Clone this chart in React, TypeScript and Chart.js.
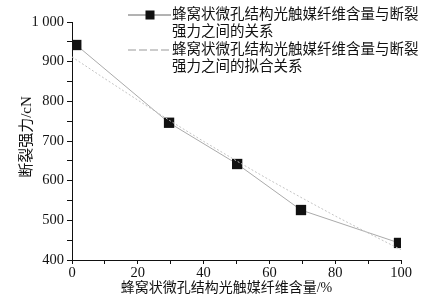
import React, { useEffect, useRef } from "react";
import { Chart, registerables } from "chart.js";

Chart.register(...registerables);

const contentX = [1.3, 29.5, 50.2, 69.6, 99.4];
const strengthY = [942, 746, 642, 526, 443];
const fitX = [0, 10, 20, 30, 40, 50, 60, 70, 80, 90, 100];
const fitY = [912, 857, 803, 750, 699, 650, 602, 556, 511, 468, 426];
const legendMeasured = ["蜂窝状微孔结构光触媒纤维含量与断裂", "强力之间的关系"];
const legendFit = ["蜂窝状微孔结构光触媒纤维含量与断裂", "强力之间的拟合关系"];
const xTitle = "蜂窝状微孔结构光触媒纤维含量/%";
const yTitle = "断裂强力/cN";

const FONT = "'Liberation Serif', 'Noto Sans CJK SC', serif";

const legendPlugin = {
  id: "customLegend",
  afterDraw(chart: any) {
    const ctx = chart.ctx as CanvasRenderingContext2D;
    const area = chart.chartArea;
    ctx.save();
    ctx.font = `14.5px ${FONT}`;
    ctx.fillStyle = "#111";
    ctx.textBaseline = "middle";
    ctx.textAlign = "left";
    // entry 1
    ctx.strokeStyle = "#666";
    ctx.lineWidth = 1;
    ctx.beginPath();
    ctx.moveTo(128, 15);
    ctx.lineTo(171, 15);
    ctx.stroke();
    ctx.fillRect(145.5, 10.5, 9, 9);
    legendMeasured.forEach((t, i) => ctx.fillText(t, 172, 15 + i * 17.5));
    // entry 2
    ctx.strokeStyle = "#999";
    ctx.setLineDash([8, 3]);
    ctx.beginPath();
    ctx.moveTo(128, 50);
    ctx.lineTo(171, 50);
    ctx.stroke();
    ctx.setLineDash([]);
    legendFit.forEach((t, i) => ctx.fillText(t, 172, 50 + i * 17.5));

    // axis titles
    ctx.font = `14px ${FONT}`;
    ctx.textAlign = "center";
    ctx.fillText(xTitle, (area.left + area.right) / 2 - 10, 288);
    ctx.translate(27, 137);
    ctx.rotate(-Math.PI / 2);
    ctx.font = `15px ${FONT}`;
    ctx.fillText(yTitle, 0, 0);
    ctx.restore();
  },
};

export default function App() {
  const ref = useRef<HTMLCanvasElement>(null);
  useEffect(() => {
    if (!ref.current) return;
    const chart = new Chart(ref.current, {
      type: "scatter",
      data: {
        datasets: [
          {
            label: legendFit.join(""),
            data: fitX.map((x, i) => ({ x, y: fitY[i] })),
            showLine: true,
            borderColor: "#c4c4c4",
            borderWidth: 1,
            borderDash: [2, 2],
            pointRadius: 0,
            fill: false,
          },
          {
            label: legendMeasured.join(""),
            data: contentX.map((x, i) => ({ x, y: strengthY[i] })),
            showLine: true,
            borderColor: "#aaa",
            borderWidth: 1,
            pointStyle: "rect",
            pointRadius: 7.3,
            pointBackgroundColor: "#111",
            pointBorderColor: "#111",
            pointBorderWidth: 0,
            fill: false,
          },
        ],
      },
      options: {
        animation: false,
        responsive: false,
        layout: { padding: { top: 22, right: 40, left: 0, bottom: 0 } },
        plugins: { legend: { display: false }, tooltip: { enabled: false } },
        scales: {
          x: {
            type: "linear",
            min: 0,
            max: 100,
            afterFit: (s: any) => {
              s.height = 41;
            },
            border: { display: true, color: "#111", width: 1 },
            grid: { display: true, drawOnChartArea: false, drawTicks: true, tickLength: 4, color: "#111" },
            ticks: {
              stepSize: 10,
              autoSkip: false,
              maxRotation: 0,
              padding: 0,
              color: "#111",
              font: { family: FONT, size: 14.5 },
              callback: (v: any) => (Number(v) % 20 === 0 ? String(v) : ""),
            },
          },
          y: {
            type: "linear",
            min: 400,
            max: 1000,
            afterFit: (s: any) => {
              s.width = 72;
            },
            border: { display: true, color: "#111", width: 1 },
            grid: { display: true, drawOnChartArea: false, drawTicks: true, tickLength: 5, color: "#111" },
            ticks: {
              stepSize: 50,
              autoSkip: false,
              padding: 3,
              color: "#111",
              font: { family: FONT, size: 14.5 },
              callback: (v: any) => {
                const n = Number(v);
                if (n % 100 !== 0) return "";
                return n >= 1000 ? "1 000" : String(n);
              },
            },
          },
        },
      },
      plugins: [legendPlugin],
    });
    return () => chart.destroy();
  }, []);
  return (
    <div style={{ position: "absolute", left: 0, top: 0, width: 441, height: 301, background: "#fff" }}>
      <canvas ref={ref} width={441} height={301} style={{ width: 441, height: 301 }} />
    </div>
  );
}
